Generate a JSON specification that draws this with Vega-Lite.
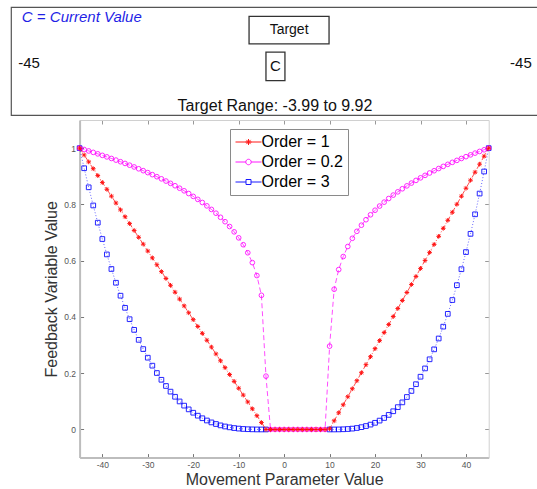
{
  "$schema": "https://vega.github.io/schema/vega-lite/v6.json",
  "background": "white",
  "padding": {"left": 10, "top": 6, "right": 0, "bottom": 0},
  "spacing": 3,
  "config": {"font": "Liberation Sans", "view": {"stroke": null}},
  "vconcat": [
    {
      "width": 530,
      "height": 108,
      "view": {"stroke": "#555555", "strokeWidth": 1.2},
      "layer": [
        {
          "data": {"values": [{"label": "C = Current Value", "pos": -43.5, "row": 0.907}]},
          "mark": {"type": "text", "align": "left", "baseline": "middle", "fontStyle": "italic", "fontSize": 15, "color": "#1f1fe6"},
          "encoding": {
            "x": {"field": "pos", "type": "quantitative", "scale": {"domain": [-45.39, 46.78], "nice": false, "zero": false}, "axis": null},
            "y": {"field": "row", "type": "quantitative", "scale": {"domain": [0, 1], "nice": false, "zero": false}, "axis": null},
            "text": {"field": "label"}
          }
        },
        {
          "data": {"values": [{"lo": -3.99, "hi": 9.92, "top": 0.913, "bottom": 0.659}]},
          "mark": {"type": "rect", "fill": null, "stroke": "#333333", "strokeWidth": 1.3},
          "encoding": {
            "x": {"field": "lo", "type": "quantitative", "axis": null},
            "x2": {"field": "hi"},
            "y": {"field": "top", "type": "quantitative", "axis": null},
            "y2": {"field": "bottom"}
          }
        },
        {
          "data": {"values": [{"label": "Target", "pos": 2.97, "row": 0.787}]},
          "mark": {"type": "text", "align": "center", "baseline": "middle", "fontSize": 14, "color": "#111111"},
          "encoding": {
            "x": {"field": "pos", "type": "quantitative", "axis": null},
            "y": {"field": "row", "type": "quantitative", "axis": null},
            "text": {"field": "label"}
          }
        },
        {
          "data": {"values": [{"lo": -1.05, "hi": 2.25, "top": 0.583, "bottom": 0.319}]},
          "mark": {"type": "rect", "fill": null, "stroke": "#333333", "strokeWidth": 1.3},
          "encoding": {
            "x": {"field": "lo", "type": "quantitative", "axis": null},
            "x2": {"field": "hi"},
            "y": {"field": "top", "type": "quantitative", "axis": null},
            "y2": {"field": "bottom"}
          }
        },
        {
          "data": {"values": [{"label": "C", "pos": 0.6, "row": 0.451}]},
          "mark": {"type": "text", "align": "center", "baseline": "middle", "fontSize": 15, "color": "#111111"},
          "encoding": {
            "x": {"field": "pos", "type": "quantitative", "axis": null},
            "y": {"field": "row", "type": "quantitative", "axis": null},
            "text": {"field": "label"}
          }
        },
        {
          "data": {"values": [{"label": "-45", "pos": -45, "row": 0.485}]},
          "mark": {"type": "text", "align": "left", "baseline": "middle", "fontSize": 15, "dx": 5, "color": "#111111"},
          "encoding": {
            "x": {"field": "pos", "type": "quantitative", "axis": null},
            "y": {"field": "row", "type": "quantitative", "axis": null},
            "text": {"field": "label"}
          }
        },
        {
          "data": {"values": [{"label": "-45", "pos": 45, "row": 0.485}]},
          "mark": {"type": "text", "align": "right", "baseline": "middle", "fontSize": 15, "dx": 1, "color": "#111111"},
          "encoding": {
            "x": {"field": "pos", "type": "quantitative", "axis": null},
            "y": {"field": "row", "type": "quantitative", "axis": null},
            "text": {"field": "label"}
          }
        },
        {
          "data": {"values": [{"label": "Target Range: -3.99 to 9.92", "pos": 0.52, "row": 0.083}]},
          "mark": {"type": "text", "align": "center", "baseline": "middle", "fontSize": 16, "color": "#111111"},
          "encoding": {
            "x": {"field": "pos", "type": "quantitative", "axis": null},
            "y": {"field": "row", "type": "quantitative", "axis": null},
            "text": {"field": "label"}
          }
        }
      ]
    },
    {
      "width": 477.7,
      "height": 337.6,
      "view": {"stroke": null},
      "data": {"values": [
        {"x":-45,"o1":1,"o02":1,"o3":1},
        {"x":-44,"o1":0.9756,"o02":0.9951,"o3":0.9286},
        {"x":-43,"o1":0.9512,"o02":0.9900,"o3":0.8607},
        {"x":-42,"o1":0.9268,"o02":0.9849,"o3":0.7962},
        {"x":-41,"o1":0.9025,"o02":0.9797,"o3":0.7350},
        {"x":-40,"o1":0.8781,"o02":0.9743,"o3":0.6770},
        {"x":-39,"o1":0.8537,"o02":0.9689,"o3":0.6222},
        {"x":-38,"o1":0.8293,"o02":0.9633,"o3":0.5704},
        {"x":-37,"o1":0.8049,"o02":0.9575,"o3":0.5215},
        {"x":-36,"o1":0.7805,"o02":0.9517,"o3":0.4755},
        {"x":-35,"o1":0.7562,"o02":0.9456,"o3":0.4324},
        {"x":-34,"o1":0.7318,"o02":0.9394,"o3":0.3919},
        {"x":-33,"o1":0.7074,"o02":0.9331,"o3":0.3540},
        {"x":-32,"o1":0.6830,"o02":0.9266,"o3":0.3186},
        {"x":-31,"o1":0.6586,"o02":0.9199,"o3":0.2857},
        {"x":-30,"o1":0.6342,"o02":0.9130,"o3":0.2551},
        {"x":-29,"o1":0.6099,"o02":0.9058,"o3":0.2268},
        {"x":-28,"o1":0.5855,"o02":0.8985,"o3":0.2007},
        {"x":-27,"o1":0.5611,"o02":0.8909,"o3":0.1766},
        {"x":-26,"o1":0.5367,"o02":0.8830,"o3":0.1546},
        {"x":-25,"o1":0.5123,"o02":0.8748,"o3":0.1345},
        {"x":-24,"o1":0.4879,"o02":0.8663,"o3":0.1162},
        {"x":-23,"o1":0.4635,"o02":0.8575,"o3":0.0996},
        {"x":-22,"o1":0.4392,"o02":0.8483,"o3":0.0847},
        {"x":-21,"o1":0.4148,"o02":0.8386,"o3":0.0714},
        {"x":-20,"o1":0.3904,"o02":0.8285,"o3":0.0595},
        {"x":-19,"o1":0.3660,"o02":0.8179,"o3":0.0490},
        {"x":-18,"o1":0.3416,"o02":0.8067,"o3":0.0399},
        {"x":-17,"o1":0.3172,"o02":0.7948,"o3":0.0319},
        {"x":-16,"o1":0.2929,"o02":0.7822,"o3":0.0251},
        {"x":-15,"o1":0.2685,"o02":0.7687,"o3":0.0194},
        {"x":-14,"o1":0.2441,"o02":0.7542,"o3":0.0145},
        {"x":-13,"o1":0.2197,"o02":0.7385,"o3":0.0106},
        {"x":-12,"o1":0.1953,"o02":0.7214,"o3":0.0075},
        {"x":-11,"o1":0.1709,"o02":0.7024,"o3":0.0050},
        {"x":-10,"o1":0.1466,"o02":0.6811,"o3":0.0031},
        {"x":-9,"o1":0.1222,"o02":0.6567,"o3":0.0018},
        {"x":-8,"o1":0.0978,"o02":0.6281,"o3":0.0009},
        {"x":-7,"o1":0.0734,"o02":0.5931,"o3":0.0004},
        {"x":-6,"o1":0.0490,"o02":0.5471,"o3":0.0001},
        {"x":-5,"o1":0.0246,"o02":0.4768,"o3":0},
        {"x":-4,"o1":0.0002,"o02":0.1895,"o3":0},
        {"x":-3,"o1":0,"o02":0,"o3":null},
        {"x":-2,"o1":0,"o02":0,"o3":null},
        {"x":-1,"o1":0,"o02":0,"o3":null},
        {"x":0,"o1":0,"o02":0,"o3":null},
        {"x":1,"o1":0,"o02":0,"o3":null},
        {"x":2,"o1":0,"o02":0,"o3":null},
        {"x":3,"o1":0,"o02":0,"o3":null},
        {"x":4,"o1":0,"o02":0,"o3":null},
        {"x":5,"o1":0,"o02":0,"o3":null},
        {"x":6,"o1":0,"o02":0,"o3":null},
        {"x":7,"o1":0,"o02":0,"o3":null},
        {"x":8,"o1":0,"o02":0,"o3":null},
        {"x":9,"o1":0,"o02":0,"o3":null},
        {"x":10,"o1":0.0023,"o02":0.2962,"o3":0},
        {"x":11,"o1":0.0308,"o02":0.4985,"o3":0},
        {"x":12,"o1":0.0593,"o02":0.5683,"o3":0.0002},
        {"x":13,"o1":0.0878,"o02":0.6147,"o3":0.0007},
        {"x":14,"o1":0.1163,"o02":0.6503,"o3":0.0016},
        {"x":15,"o1":0.1448,"o02":0.6795,"o3":0.0030},
        {"x":16,"o1":0.1733,"o02":0.7043,"o3":0.0052},
        {"x":17,"o1":0.2018,"o02":0.7261,"o3":0.0082},
        {"x":18,"o1":0.2303,"o02":0.7455,"o3":0.0122},
        {"x":19,"o1":0.2588,"o02":0.7631,"o3":0.0173},
        {"x":20,"o1":0.2873,"o02":0.7793,"o3":0.0237},
        {"x":21,"o1":0.3158,"o02":0.7941,"o3":0.0315},
        {"x":22,"o1":0.3444,"o02":0.8080,"o3":0.0408},
        {"x":23,"o1":0.3729,"o02":0.8209,"o3":0.0518},
        {"x":24,"o1":0.4014,"o02":0.8331,"o3":0.0647},
        {"x":25,"o1":0.4299,"o02":0.8446,"o3":0.0794},
        {"x":26,"o1":0.4584,"o02":0.8556,"o3":0.0963},
        {"x":27,"o1":0.4869,"o02":0.8659,"o3":0.1154},
        {"x":28,"o1":0.5154,"o02":0.8758,"o3":0.1369},
        {"x":29,"o1":0.5439,"o02":0.8853,"o3":0.1609},
        {"x":30,"o1":0.5724,"o02":0.8944,"o3":0.1875},
        {"x":31,"o1":0.6009,"o02":0.9032,"o3":0.2170},
        {"x":32,"o1":0.6294,"o02":0.9116,"o3":0.2494},
        {"x":33,"o1":0.6579,"o02":0.9197,"o3":0.2848},
        {"x":34,"o1":0.6864,"o02":0.9275,"o3":0.3234},
        {"x":35,"o1":0.7149,"o02":0.9351,"o3":0.3654},
        {"x":36,"o1":0.7434,"o02":0.9424,"o3":0.4109},
        {"x":37,"o1":0.7720,"o02":0.9495,"o3":0.4600},
        {"x":38,"o1":0.8005,"o02":0.9565,"o3":0.5129},
        {"x":39,"o1":0.8290,"o02":0.9632,"o3":0.5696},
        {"x":40,"o1":0.8575,"o02":0.9697,"o3":0.6305},
        {"x":41,"o1":0.8860,"o02":0.9761,"o3":0.6954},
        {"x":42,"o1":0.9145,"o02":0.9823,"o3":0.7648},
        {"x":43,"o1":0.9430,"o02":0.9883,"o3":0.8385},
        {"x":44,"o1":0.9715,"o02":0.9942,"o3":0.9169},
        {"x":45,"o1":1,"o02":1,"o3":1}
      ]},
      "transform": [{"fold": ["o3", "o02", "o1"], "as": ["key", "value"]}],
      "resolve": {"axis": {"x": "independent", "y": "independent"}},
      "layer": [
        {
          "encoding": {
            "x": {"field": "x", "type": "quantitative",
              "scale": {"domain": [-45, 45], "range": [68.6, 477.7], "nice": false, "zero": false},
              "axis": {"orient": "bottom", "values": [-40, -30, -20, -10, 0, 10, 20, 30, 40], "labelExpr": "'' + datum.value",
                "title": "Movement Parameter Value", "titleFontSize": 16, "titleFontWeight": "normal", "titleColor": "#333333", "titlePadding": 2,
                "labelFontSize": 8.5, "labelColor": "#555555", "labelPadding": 7, "tickSize": -4, "tickColor": "#777777",
                "domainColor": "#bdbdbd", "domainWidth": 2, "grid": false}},
            "y": {"field": "value", "type": "quantitative",
              "scale": {"domain": [-0.1, 1.1], "nice": false, "zero": false},
              "axis": {"orient": "left", "offset": -68.6, "values": [0, 0.2, 0.4, 0.6, 0.8, 1], "labelExpr": "'' + datum.value",
                "title": "Feedback Variable Value", "titleFontSize": 16, "titleFontWeight": "normal", "titleColor": "#333333", "titlePadding": 4,
                "labelFontSize": 8.5, "labelColor": "#555555", "labelPadding": 8, "tickSize": -4, "tickColor": "#777777",
                "domainColor": "#bdbdbd", "domainWidth": 2, "grid": false}},
            "color": {"field": "key", "type": "nominal",
              "scale": {"domain": ["o1", "o02", "o3"], "range": ["#ff0000", "#ff00ff", "#0000ff"]},
              "legend": {
                "orient": "none", "legendX": 219, "legendY": 122, "title": null,
                "labelExpr": "datum.value === 'o1' ? 'Order = 1' : datum.value === 'o02' ? 'Order = 0.2' : 'Order = 3'",
                "labelFontSize": 16, "labelColor": "#000000", "labelFont": "Liberation Sans",
                "symbolSize": 100, "symbolOffset": 5.5, "labelOffset": 5, "padding": 5, "rowPadding": 4,
                "symbolOpacity": 0.9, "symbolStrokeWidth": 1, "symbolFillColor": "transparent",
                "fillColor": "#ffffff", "strokeColor": "#8a8a8a"
              }}
          },
          "layer": [
            {"transform": [{"filter": "datum.key === 'o3'"}],
             "mark": {"type": "line", "strokeWidth": 1, "opacity": 0.6, "strokeDash": [1, 2]}},
            {"transform": [{"filter": "datum.key === 'o3'"}],
             "mark": {"type": "point", "shape": "square", "filled": false, "size": 22, "strokeWidth": 1, "opacity": 0.85}},
            {"transform": [{"filter": "datum.key === 'o02'"}],
             "mark": {"type": "line", "strokeWidth": 1, "opacity": 0.7, "strokeDash": [5, 3]}},
            {"transform": [{"filter": "datum.key === 'o02'"}],
             "mark": {"type": "point", "shape": "circle", "filled": false, "size": 22, "strokeWidth": 1, "opacity": 0.85}},
            {"transform": [{"filter": "datum.key === 'o1'"}],
             "mark": {"type": "line", "strokeWidth": 1, "opacity": 0.7, "strokeDash": [5, 2, 1, 2]}},
            {"transform": [{"filter": "datum.key === 'o1'"}],
             "mark": {"type": "point", "shape": "M-1,0H1M0,-1V1M-0.7,-0.7L0.7,0.7M-0.7,0.7L0.7,-0.7", "filled": false, "size": 22, "strokeWidth": 1, "opacity": 0.9}},
            {"mark": {"type": "point", "filled": false, "opacity": 0, "size": 22},
             "encoding": {
               "shape": {"field": "key", "type": "nominal",
                 "scale": {"domain": ["o1", "o02", "o3"], "range": [
                   "M-2.6,0H2.6M-0.6,0H0.6M0,-0.6V0.6M-0.42,-0.42L0.42,0.42M-0.42,0.42L0.42,-0.42",
                   "M-2.6,0H-0.55M0.55,0H2.6M-0.55,0A0.55,0.55 0 1,0 0.55,0A0.55,0.55 0 1,0 -0.55,0",
                   "M-2.6,0H-0.5M0.5,0H2.6M-0.5,-0.5H0.5V0.5H-0.5Z"]},
                 "legend": {
                   "orient": "none", "legendX": 219, "legendY": 122, "title": null,
                   "labelExpr": "datum.value === 'o1' ? 'Order = 1' : datum.value === 'o02' ? 'Order = 0.2' : 'Order = 3'",
                   "labelFontSize": 16, "labelColor": "#000000", "labelFont": "Liberation Sans",
                   "symbolSize": 100, "symbolOffset": 5.5, "labelOffset": 5, "padding": 5, "rowPadding": 4,
                   "symbolOpacity": 0.9, "symbolStrokeWidth": 1, "symbolFillColor": "transparent",
                   "fillColor": "#ffffff", "strokeColor": "#8a8a8a"
                 }}
             }}
          ]
        },
        {
          "mark": {"type": "point", "opacity": 0},
          "encoding": {
            "x": {"field": "x", "type": "quantitative",
              "scale": {"domain": [-45, 45], "range": [68.6, 477.7], "nice": false, "zero": false},
              "axis": {"orient": "top", "values": [-40, -30, -20, -10, 0, 10, 20, 30, 40], "labels": false, "title": null,
                "tickSize": -4, "tickColor": "#999999", "domainColor": "#d0d0d0", "domainWidth": 1, "grid": false}},
            "y": {"field": "value", "type": "quantitative",
              "scale": {"domain": [-0.1, 1.1], "nice": false, "zero": false},
              "axis": {"orient": "right", "values": [0, 0.2, 0.4, 0.6, 0.8, 1], "labels": false, "title": null,
                "tickSize": -4, "tickColor": "#999999", "domainColor": "#d0d0d0", "domainWidth": 1, "grid": false}}
          }
        }
      ]
    }
  ]
}
